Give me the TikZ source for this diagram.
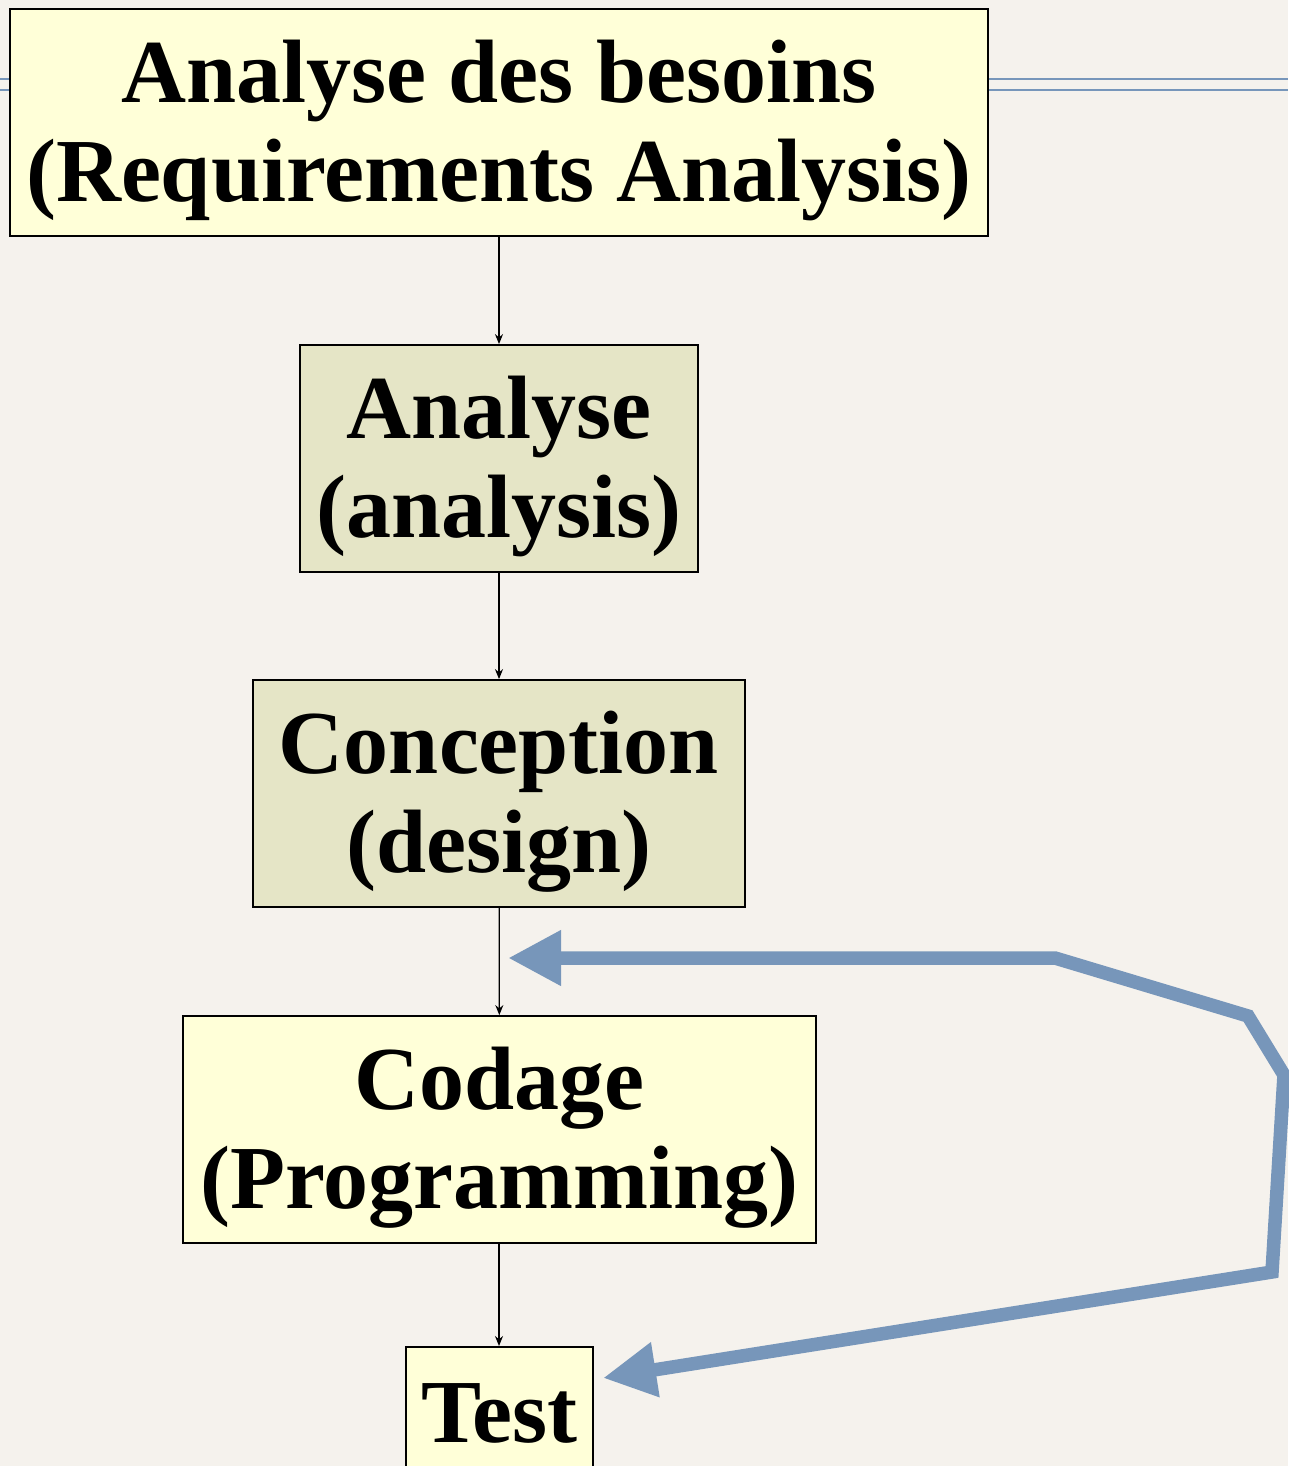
\documentclass[tikz,border=0pt]{standalone}
\usepackage{fontspec}
\setmainfont{Liberation Serif}
\usetikzlibrary{arrows.meta}
\definecolor{bgc}{HTML}{F5F2ED}
\definecolor{yel}{HTML}{FFFFD8}
\definecolor{grn}{HTML}{E5E5C6}
\definecolor{blu}{HTML}{7796BA}
\newcommand{\topstrut}{\rule{0pt}{78pt}}
\tikzset{
  stage/.style={draw=black, line width=1.8pt, inner sep=0pt, align=center,
    minimum height=227pt, font=\fontsize{90}{99}\selectfont\bfseries},
  yelbox/.style={stage, fill=yel},
  grnbox/.style={stage, fill=grn},
  flow/.style={draw=black, line width=1.3pt, -{Stealth[length=10pt,width=8pt]}},
  loop/.style={draw=blu, line width=13.5pt, {Triangle[length=53pt,width=52pt]}-{Triangle[length=53pt,width=52pt]}},
  rule/.style={draw=blu, line width=2.8pt}
}
\begin{document}
\begin{tikzpicture}[x=1pt,y=-1pt]
\fill[bgc] (0,0) rectangle (1288,1466);
\useasboundingbox (0,0) rectangle (1288,1466);
\coordinate (l1a) at (0,79);
\coordinate (l1b) at (1288,79);
\coordinate (l2a) at (0,90);
\coordinate (l2b) at (1288,90);
\draw[rule] (l1a) -- (l1b);
\draw[rule] (l2a) -- (l2b);
\node[yelbox, minimum width=978pt] (b1) at (499,122.5) {\topstrut Analyse des besoins\\(Requirements Analysis)};
\node[grnbox, minimum width=398pt] (b2) at (499,458.5) {\topstrut Analyse\\(analysis)};
\node[grnbox, minimum width=492pt] (b3) at (499,793.5) {\topstrut Conception\\(design)};
\node[yelbox, minimum width=633pt] (b4) at (499.5,1129.5) {\topstrut Codage\\(Programming)};
\node[yelbox, minimum width=187pt, minimum height=134pt, anchor=north] (b5) at (499.5,1346) {Test};
\draw[flow] (b1.south -| 499,0) -- (b2.north -| 499,0);
\draw[flow] (b2) -- (b3);
\draw[flow] (b3) -- (b4);
\draw[flow] (b4.south -| 499,0) -- (b5.north -| 499,0);
\coordinate (t1) at (508,958);
\coordinate (p1) at (1055,958);
\coordinate (p2) at (1248,1016);
\coordinate (p3) at (1284,1075);
\coordinate (p4) at (1272,1272);
\coordinate (t2) at (603,1378);
\draw[loop, line join=miter] (t1) -- (p1) -- (p2) -- (p3) -- (p4) -- (t2);
\end{tikzpicture}
\end{document}
